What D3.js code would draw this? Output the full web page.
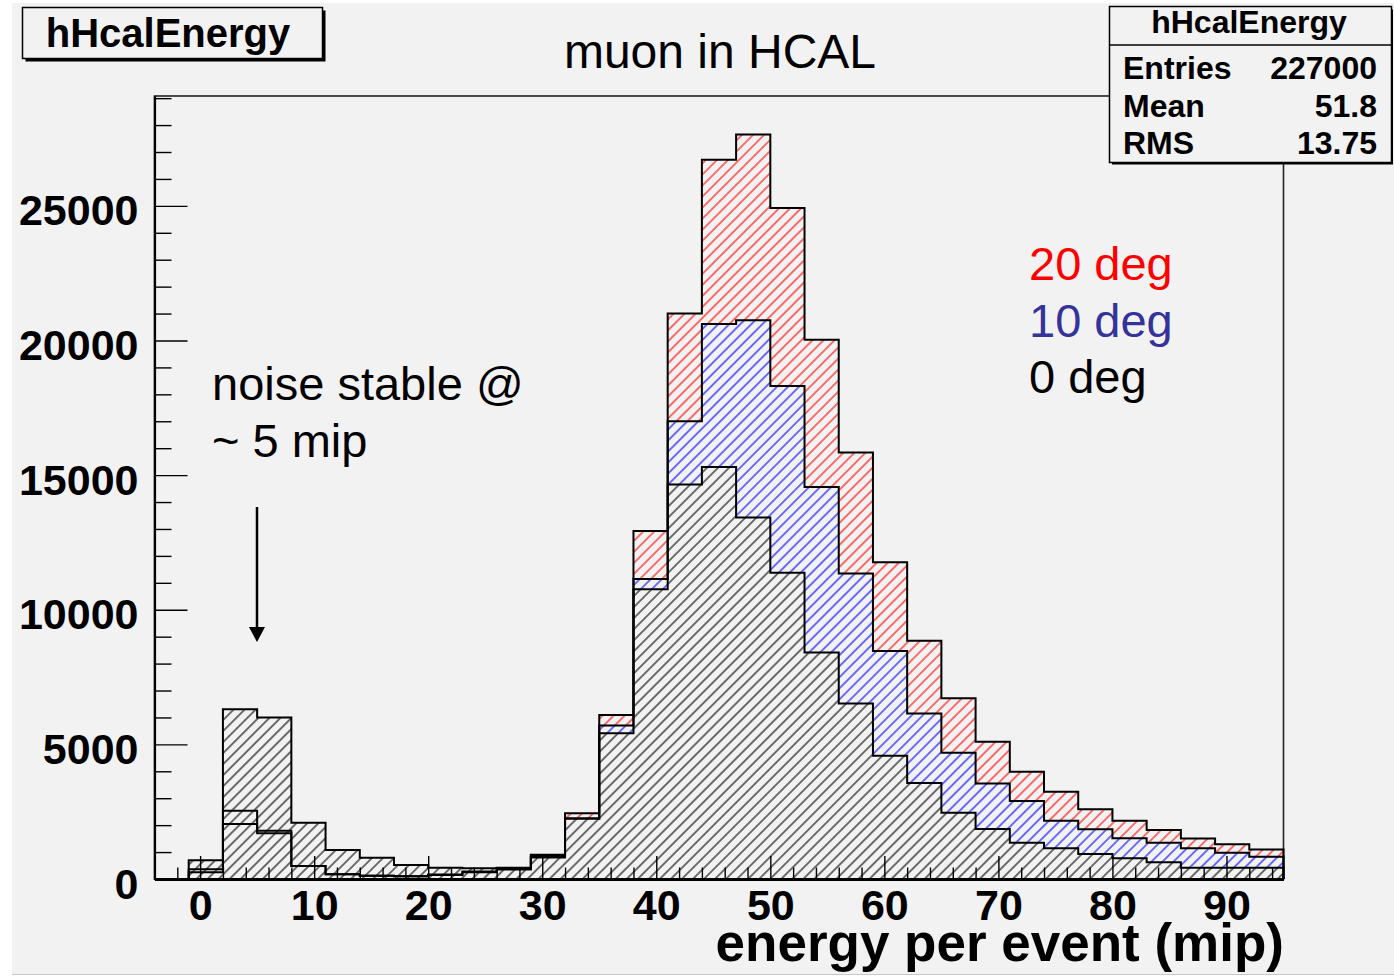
<!DOCTYPE html>
<html>
<head>
<meta charset="utf-8">
<script src="https://cdn.jsdelivr.net/npm/d3@7"></script>
<style>
  html, body { margin: 0; padding: 0; background: #ffffff; }
  svg { display: block; }
  text { font-family: "Liberation Sans", Arial, Helvetica, sans-serif; }
</style>
</head>
<body>
<svg id="chart" width="1394" height="976"></svg>
<script>
// Lower edges of the 3-mip bins (last bin ends at 95)
const binLow = [-4, -1, 2, 5, 8, 11, 14, 17, 20, 23, 26, 29, 32, 35, 38, 41, 44,
                47, 50, 53, 56, 59, 62, 65, 68, 71, 74, 77, 80, 83, 86, 89, 92];
const binHigh = 95;

// Entries per bin for each incidence angle
const deg20 = [0, 360, 2535, 1790, 480, 180, 120, 100, 170, 280, 380, 900, 2440, 6090,
               12920, 21000, 26715, 27650, 24920, 20030, 15840, 11760, 8850, 6710, 5100,
               3980, 3240, 2590, 2165, 1820, 1500, 1290, 1100];
const deg10 = [0, 250, 2040, 1700, 480, 180, 120, 100, 150, 250, 350, 850, 2250, 5705,
               11140, 17000, 20610, 20750, 18310, 14560, 11350, 8470, 6150, 4690, 3550,
               2900, 2165, 1845, 1510, 1350, 1140, 975, 830];
const deg0  = [0, 700, 6300, 6000, 2090, 1075, 790, 520, 420, 400, 420, 800, 2250, 5410,
               10760, 14650, 15300, 13430, 11370, 8415, 6520, 4580, 3570, 2460, 1860,
               1350, 1140, 930, 770, 620, 420, 420, 420];

const seriesNames  = ["20 deg", "10 deg", "0 deg"];
const seriesColors = ["#ff0000", "#333399", "#000000"];
const hatchColors  = ["#ff0000", "#0000ff", "#000000"];

const xTicksMajor = [0, 10, 20, 30, 40, 50, 60, 70, 80, 90];
const yTicksMajor = [0, 5000, 10000, 15000, 20000, 25000];

const histName = "hHcalEnergy";
const statsLabels = ["Entries", "Mean", "RMS"];
const statsValues = ["227000", "51.8", "13.75"];

const svg = d3.select("#chart");

// Canvas background
svg.append("rect").attr("x", 12).attr("y", 3).attr("width", 1382).attr("height", 971)
  .attr("fill", "#f2f2f2");
svg.append("line").attr("x1", 12).attr("x2", 1394).attr("y1", 974.5).attr("y2", 974.5)
  .attr("stroke", "#c8c8c8").attr("stroke-width", 1);

const x = d3.scaleLinear().domain([-4, 95]).range([154.5, 1283.5]);
const y = d3.scaleLinear().domain([0, 29080]).range([879, 96]);

function stepPoints(vals) {
  const pts = [[binLow[0], 0]];
  vals.forEach((v, i) => {
    const hi = i + 1 < binLow.length ? binLow[i + 1] : binHigh;
    pts.push([binLow[i], v]);
    pts.push([hi, v]);
  });
  pts.push([binHigh, 0]);
  return pts;
}
const line = d3.line().x(d => x(d[0])).y(d => y(d[1]));
const series = [deg20, deg10, deg0];
const paths = series.map(v => line(stepPoints(v)));

// Hatch patterns, all aligned in user space
const defs = svg.append("defs");
hatchColors.forEach((c, i) => {
  const p = defs.append("pattern")
    .attr("id", "hatch" + i)
    .attr("patternUnits", "userSpaceOnUse")
    .attr("width", 7.8).attr("height", 7.8)
    .attr("patternTransform", "rotate(45)");
  p.append("line").attr("x1", 3.9).attr("x2", 3.9).attr("y1", -1).attr("y2", 9)
    .attr("stroke", c).attr("stroke-width", 1.1);
});

// Each hatch is hidden wherever a later-drawn histogram covers it
series.forEach((_, i) => {
  const m = defs.append("mask").attr("id", "mask" + i).attr("maskUnits", "userSpaceOnUse")
    .attr("x", 0).attr("y", 0).attr("width", 1394).attr("height", 976);
  m.append("rect").attr("width", 1394).attr("height", 976).attr("fill", "#fff");
  for (let j = i + 1; j < series.length; j++) {
    m.append("path").attr("d", paths[j]).attr("fill", "#000");
  }
});

// Frame
svg.append("rect").attr("x", x(-4)).attr("y", y.range()[1])
  .attr("width", x(95) - x(-4)).attr("height", y(0) - y.range()[1])
  .attr("fill", "none").attr("stroke", "#222").attr("stroke-width", 1.6);

// Hatched fills, then step outlines
paths.forEach((d, i) => {
  svg.append("path").attr("d", d)
    .attr("fill", "url(#hatch" + i + ")")
    .attr("mask", "url(#mask" + i + ")")
    .attr("stroke", "none");
});
paths.forEach(d => {
  svg.append("path").attr("d", d)
    .attr("fill", "none").attr("stroke", "#000")
    .attr("stroke-width", 2).attr("stroke-linejoin", "miter");
});

// X axis: minor ticks every 2, major every 10, pointing inward
const xMinor = d3.range(-4, 95.01, 2).filter(v => v % 10 !== 0);
svg.append("g").attr("transform", `translate(0,${y(0)})`)
  .call(d3.axisBottom(x).tickValues(xMinor).tickSize(-11.5).tickFormat(""))
  .call(g => g.select(".domain").remove())
  .selectAll("line").attr("stroke", "#000").attr("stroke-width", 1.4);

const gx = svg.append("g").attr("transform", `translate(0,${y(0)})`)
  .call(d3.axisBottom(x).tickValues(xTicksMajor).tickSize(-23).tickSizeOuter(0).tickFormat(d3.format("d")));
gx.select(".domain").attr("stroke", "#000").attr("stroke-width", 3);
gx.selectAll(".tick line").attr("stroke", "#000").attr("stroke-width", 1.4);
gx.selectAll(".tick text")
  .attr("y", 41).attr("dy", null)
  .attr("fill", "#000").attr("font-size", 43).attr("font-weight", "bold")
  .attr("font-family", "Liberation Sans, Arial, sans-serif");

// Y axis: minor ticks every 1000, major every 5000
const yMinor = d3.range(0, 29001, 1000).filter(v => v % 5000 !== 0);
svg.append("g").attr("transform", `translate(${x(-4)},0)`)
  .call(d3.axisLeft(y).tickValues(yMinor).tickSize(-17).tickFormat(""))
  .call(g => g.select(".domain").remove())
  .selectAll("line").attr("stroke", "#000").attr("stroke-width", 1.4);

const gy = svg.append("g").attr("transform", `translate(${x(-4)},0)`)
  .call(d3.axisLeft(y).tickValues(yTicksMajor).tickSize(-33).tickSizeOuter(0).tickFormat(d3.format("d")));
gy.select(".domain").attr("stroke", "#000").attr("stroke-width", 2.2);
gy.selectAll(".tick line").attr("stroke", "#000").attr("stroke-width", 1.4);
gy.selectAll(".tick text")
  .attr("x", -16).attr("dy", 19)
  .attr("fill", "#000").attr("font-size", 43).attr("font-weight", "bold")
  .attr("font-family", "Liberation Sans, Arial, sans-serif");

// Axis title
svg.append("text").attr("x", 1284).attr("y", 961).attr("text-anchor", "end")
  .attr("font-size", 53).attr("font-weight", "bold").attr("fill", "#000")
  .text("energy per event (mip)");

// Plot title
svg.append("text").attr("x", 720).attr("y", 68).attr("text-anchor", "middle")
  .attr("font-size", 48).attr("fill", "#000").text("muon in HCAL");

// Annotation and arrow
svg.append("text").attr("x", 212).attr("y", 400).attr("font-size", 47)
  .attr("fill", "#000").text("noise stable @");
svg.append("text").attr("x", 212).attr("y", 457).attr("font-size", 47)
  .attr("fill", "#000").text("~ 5 mip");
svg.append("line").attr("x1", 257).attr("x2", 257).attr("y1", 507).attr("y2", 630)
  .attr("stroke", "#000").attr("stroke-width", 2.5);
svg.append("path").attr("d", "M249,627 L265,627 L257,642 Z").attr("fill", "#000");

// Angle labels
seriesNames.forEach((s, i) => {
  svg.append("text").attr("x", 1029).attr("y", 280 + i * 56.7)
    .attr("font-size", 47).attr("fill", seriesColors[i]).text(s);
});

// Name box (top left)
svg.append("rect").attr("x", 25.5).attr("y", 10.5).attr("width", 300).attr("height", 51)
  .attr("fill", "#000");
svg.append("rect").attr("x", 22.5).attr("y", 7.5).attr("width", 300).attr("height", 51)
  .attr("fill", "#f2f2f2").attr("stroke", "#000").attr("stroke-width", 1.5);
svg.append("text").attr("x", 168).attr("y", 47).attr("text-anchor", "middle")
  .attr("font-size", 40).attr("font-weight", "bold").attr("fill", "#000").text(histName);

// Statistics box (top right)
svg.append("rect").attr("x", 1112).attr("y", 9.5).attr("width", 281).attr("height", 155)
  .attr("fill", "#000");
svg.append("rect").attr("x", 1109.5).attr("y", 6.5).attr("width", 282).attr("height", 156)
  .attr("fill", "#f2f2f2").attr("stroke", "#000").attr("stroke-width", 1.5);
svg.append("line").attr("x1", 1109.5).attr("x2", 1391.5).attr("y1", 45).attr("y2", 45)
  .attr("stroke", "#000").attr("stroke-width", 1.5);
svg.append("text").attr("x", 1249).attr("y", 33).attr("text-anchor", "middle")
  .attr("font-size", 32).attr("font-weight", "bold").attr("fill", "#000").text(histName);
statsLabels.forEach((lab, i) => {
  const by = 79 + i * 37.5;
  svg.append("text").attr("x", 1123).attr("y", by)
    .attr("font-size", 32).attr("font-weight", "bold").attr("fill", "#000").text(lab);
  svg.append("text").attr("x", 1377).attr("y", by).attr("text-anchor", "end")
    .attr("font-size", 32).attr("font-weight", "bold").attr("fill", "#000").text(statsValues[i]);
});
</script>
</body>
</html>
